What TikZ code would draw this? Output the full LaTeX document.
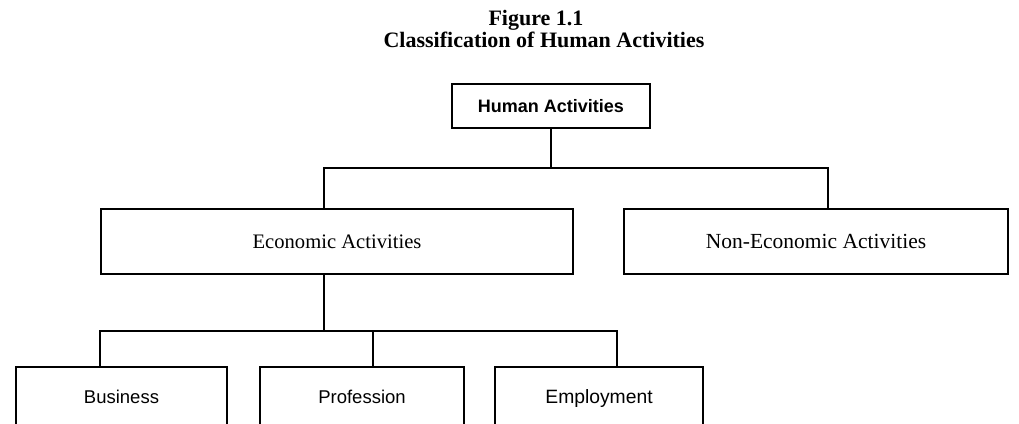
\documentclass[tikz,border=0pt]{standalone}
\usepackage{fontspec}
\setmainfont{Liberation Serif}
\newfontfamily\sansf{Liberation Sans}
\begin{document}
\begin{tikzpicture}[x=1pt,y=-1pt,
  box/.style={draw,line width=2pt,inner sep=0pt},
  conn/.style={line width=2pt},
  ttl/.style={font=\fontsize{22}{24}\selectfont\bfseries,inner sep=0pt,anchor=base},
  lowbox/.style={box,minimum height=64pt,anchor=north,font=\sansf\fontsize{18.5}{20}\selectfont}]
\clip (0,0) rectangle (1019,423);
\fill[white] (0,0) rectangle (1019,423);
\node[ttl] (fig) at (536,25) {Figure 1.1};
\node[ttl] (cls) at (544,47) {Classification of Human Activities};
\node[box,minimum width=198pt,minimum height=44pt,font=\sansf\bfseries\fontsize{18}{20}\selectfont] (human) at (551,106) {Human Activities};
\node[box,minimum width=472pt,minimum height=65pt,font=\fontsize{20.6}{22}\selectfont] (econ) at (337,241.5) {Economic Activities};
\node[box,minimum width=384pt,minimum height=65pt,font=\fontsize{21.5}{22}\selectfont] (nonecon) at (816,241.5) {Non-Economic Activities};
\node[lowbox,minimum width=211pt] (bus) at (121.5,366) {\raisebox{5pt}{Business}};
\node[lowbox,minimum width=204pt] (prof) at (362,366) {\raisebox{5pt}{Profession}};
\node[lowbox,minimum width=208pt,font=\sansf\fontsize{19.3}{20}\selectfont] (emp) at (599,366) {\raisebox{5pt}{Employment}};
\coordinate (t1) at (551,168);
\coordinate (ein) at (324,209);
\coordinate (nein) at (828,209);
\coordinate (eout) at (324,274);
\coordinate (t2) at (324,331);
\coordinate (bin) at (100,366);
\coordinate (pin) at (373,366);
\coordinate (emin) at (617,366);
\draw[conn] (human.south) -- (human.south |- t1);
\draw[conn] (ein) -- (ein |- t1) -- (nein |- t1) -- (nein);
\draw[conn] (eout) -- (t2);
\draw[conn] (bin) -- (bin |- t2) -- (emin |- t2) -- (emin);
\draw[conn] (pin |- t2) -- (pin);
\end{tikzpicture}
\end{document}
